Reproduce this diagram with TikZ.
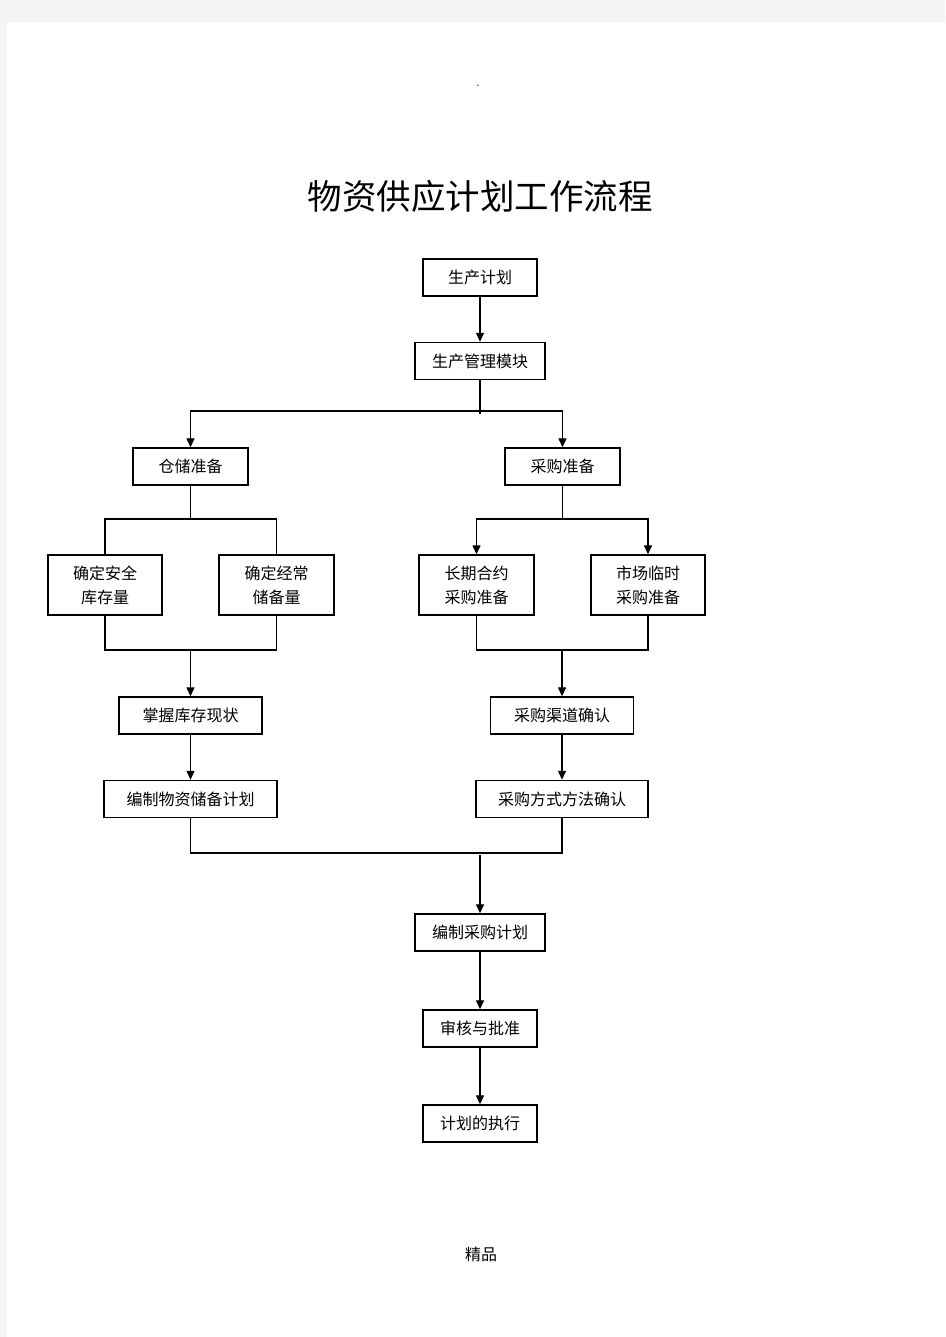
\documentclass[tikz,border=0pt]{standalone}
\usepackage{fontspec}
\newfontfamily\cjk{Noto Sans CJK SC}
\usetikzlibrary{arrows.meta}
\definecolor{pagegray}{RGB}{244,244,244}

\begin{document}
\begin{tikzpicture}[x=1pt,y=-1pt,
        box/.style={draw,line width=1.4pt,inner sep=0pt,align=center,minimum height=37pt,font=\cjk\fontsize{16}{24}\selectfont},
        arr/.style={line width=1.3pt,-{Triangle[length=9pt,width=8pt]}},
        ln/.style={line width=1.3pt}]
        % page
        \useasboundingbox (0,0) rectangle (945,1337);
        \fill[pagegray] (0,0) rectangle (945,1337);
        \fill[white] (7,22) rectangle (945,1337);

        \node[font=\fontsize{14}{16}\selectfont] (dot) at (478,86) {.};
        \node[font=\cjk\fontsize{34.5}{40}\selectfont] (title) at (480,196) {物资供应计划工作流程};

        \node[box,minimum width=114pt] (plan) at (480,277.5) {生产计划};
        \node[box,minimum width=130pt] (mgmt) at (480,361) {生产管理模块};

        \node[box,minimum width=115pt] (store) at (190.5,466.5) {仓储准备};
        \node[box,minimum width=115pt] (buy) at (562.5,466.5) {采购准备};

        \node[box,minimum width=114pt,minimum height=60pt] (safe) at (105,585) {确定安全\\库存量};
        \node[box,minimum width=115pt,minimum height=60pt] (usual) at (276.5,585) {确定经常\\储备量};
        \node[box,minimum width=115pt,minimum height=60pt] (longterm) at (476.5,585) {长期合约\\采购准备};
        \node[box,minimum width=114pt,minimum height=60pt] (market) at (648,585) {市场临时\\采购准备};

        \node[box,minimum width=143pt] (stock) at (190.5,715.5) {掌握库存现状};
        \node[box,minimum width=143pt] (channel) at (562,715.5) {采购渠道确认};
        \node[box,minimum width=173pt] (reserve) at (190.5,799) {编制物资储备计划};
        \node[box,minimum width=172pt] (method) at (562,799) {采购方式方法确认};

        \node[box,minimum width=130pt] (buyplan) at (480,932.5) {编制采购计划};
        \node[box,minimum width=114pt] (check) at (480,1028.5) {审核与批准};
        \node[box,minimum width=114pt] (run) at (480,1123.5) {计划的执行};

        \node[font=\cjk\fontsize{16}{20}\selectfont] (mark) at (481,1254) {精品};

        % top
        \draw[arr] (plan) -- (mgmt);
        \coordinate (s1) at (480,411);
        \draw[ln] (mgmt) -- (480,414);
        \draw[arr] (s1) -| (store);
        \draw[arr] (s1) -| (buy);

        % left branch
        \draw[ln] (store) -- (190.5,519) coordinate (s2);
        \draw[ln] (s2) -| (safe);
        \draw[ln] (s2) -| (usual);
        \coordinate (j2) at (190.5,650);
        \draw[ln] (safe) |- (j2);
        \draw[ln] (usual) |- (j2);
        \draw[arr] (j2) -- (stock);
        \draw[arr] (stock) -- (reserve);

        % right branch
        \draw[ln] (buy) -- (562.5,519) coordinate (s3);
        \draw[arr] (s3) -| (longterm);
        \draw[arr] (s3) -| (market);
        \coordinate (j3) at (562,650);
        \draw[ln] (longterm) |- (j3);
        \draw[ln] (market) |- (j3);
        \draw[arr] (j3) -- (channel);
        \draw[arr] (channel) -- (method);

        % merge
        \coordinate (j4) at (480,853);
        \draw[ln] (reserve) |- (j4);
        \draw[ln] (method) |- (j4);
        \draw[arr] (480,855) -- (buyplan);
        \draw[arr] (buyplan) -- (check);
        \draw[arr] (check) -- (run);
\end{tikzpicture}
\end{document}
